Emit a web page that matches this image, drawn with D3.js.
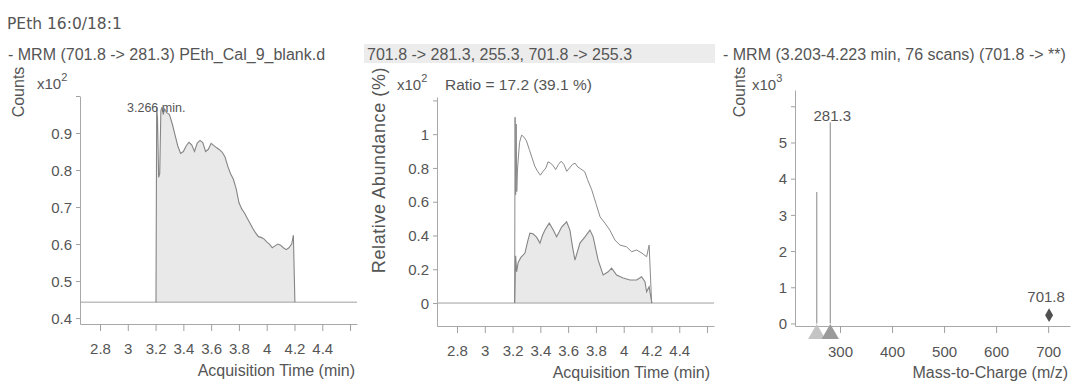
<!DOCTYPE html>
<html><head><meta charset="utf-8">
<script src="https://cdn.jsdelivr.net/npm/d3@7"></script>
<style>
body{margin:0;background:#fff}
svg text{font-family:'Liberation Sans',Arial,sans-serif;fill:#555}
</style>
</head><body>
<svg id="c" width="1073" height="381"></svg>
<script>
// ---- Panel 1: EIC 701.8 -> 281.3 (counts x10^2)
const eicTime = [3.203,3.208,3.214,3.222,3.230,3.238,3.246,3.255,3.266,3.28,3.30,3.32,3.34,3.36,3.38,3.40,3.42,3.44,3.46,3.48,3.50,3.52,3.54,3.56,3.58,3.60,3.62,3.64,3.66,3.68,3.70,3.72,3.74,3.76,3.78,3.80,3.82,3.84,3.86,3.88,3.90,3.92,3.94,3.96,3.98,4.00,4.02,4.04,4.06,4.08,4.10,4.12,4.14,4.16,4.18,4.192,4.203];
const eicCounts = [0.443,0.97,0.94,0.78,0.79,0.96,0.97,0.95,0.965,0.955,0.95,0.925,0.895,0.865,0.845,0.85,0.865,0.875,0.868,0.85,0.873,0.88,0.874,0.85,0.856,0.872,0.866,0.86,0.855,0.848,0.835,0.81,0.79,0.775,0.75,0.712,0.695,0.684,0.67,0.656,0.642,0.63,0.62,0.618,0.614,0.606,0.60,0.59,0.595,0.60,0.597,0.59,0.585,0.59,0.60,0.624,0.443];
const eicBaseline = 0.443;
const eicYTicks = [0.4,0.5,0.6,0.7,0.8,0.9,1.0];
const eicYLabels = ["0.4","0.5","0.6","0.7","0.8","0.9",""];
const timeTicks = [2.8,3.0,3.2,3.4,3.6,3.8,4.0,4.2,4.4,4.6];
const timeLabels = ["2.8","3","3.2","3.4","3.6","3.8","4","4.2","4.4",""];

// ---- Panel 2: qualifier overlay (relative abundance x10^2)
const upTime = [3.215,3.218,3.222,3.226,3.230,3.236,3.250,3.265,3.28,3.30,3.32,3.34,3.36,3.38,3.40,3.42,3.44,3.455,3.47,3.49,3.51,3.53,3.55,3.57,3.59,3.61,3.63,3.65,3.67,3.69,3.72,3.74,3.77,3.80,3.83,3.865,3.90,3.937,3.973,4.02,4.057,4.093,4.13,4.165,4.183,4.201];
const upValue = [0,1.10,0.64,1.06,0.66,0.80,0.95,0.994,0.985,0.96,0.91,0.86,0.81,0.78,0.757,0.78,0.80,0.836,0.83,0.816,0.79,0.82,0.84,0.82,0.78,0.80,0.82,0.828,0.805,0.795,0.777,0.73,0.67,0.59,0.51,0.473,0.432,0.373,0.343,0.333,0.304,0.314,0.296,0.274,0.343,0];
const loTime = [3.215,3.222,3.229,3.24,3.26,3.289,3.31,3.325,3.347,3.373,3.397,3.415,3.433,3.464,3.493,3.517,3.535,3.553,3.589,3.613,3.63,3.649,3.685,3.72,3.757,3.78,3.816,3.852,3.888,3.913,3.949,3.996,4.045,4.093,4.129,4.153,4.165,4.183,4.195,4.203];
const loValue = [0,0.28,0.185,0.24,0.27,0.296,0.37,0.414,0.41,0.39,0.355,0.40,0.432,0.473,0.432,0.392,0.42,0.45,0.481,0.432,0.34,0.254,0.355,0.39,0.432,0.392,0.254,0.166,0.185,0.207,0.166,0.148,0.136,0.136,0.156,0.126,0.067,0.096,0.037,0];
const relYTicks = [0,0.2,0.4,0.6,0.8,1.0,1.2];
const relYLabels = ["0","0.2","0.4","0.6","0.8","1",""];

// ---- Panel 3: product ion spectrum (counts x10^3)
const specMz = [255.3, 281.3];
const specIntensity = [3.63, 5.56];
const specMarkerColor = ["#c4c4c4", "#9a9a9a"];
const precursorMz = [701.8];
const precursorIntensity = [0.23];
const mzTicks = [300,400,500,600,700];
const mzLabels = ["300","400","500","600","700"];
const cntYTicks = [0,1,2,3,4,5,6];
const cntYLabels = ["0","1","2","3","4","5",""];

const svg = d3.select("#c");
svg.append("rect").attr("width",1073).attr("height",381).attr("fill","#fff");

function styleAxis(g){
  g.select(".domain").attr("stroke","#a8a8a8");
  g.selectAll(".tick line").attr("stroke","#a0a0a0");
  g.selectAll(".tick text").style("font-size","15px").attr("fill","#5a5a5a");
}
function drawAxes(x, y, xt, xl, yt, yl, xPad){
  const ax = d3.axisBottom(x).tickValues(xt).tickFormat((d,i)=>xl[i]).tickSize(7).tickSizeOuter(0).tickPadding(xPad);
  const ay = d3.axisLeft(y).tickValues(yt).tickFormat((d,i)=>yl[i]).tickSize(4).tickSizeOuter(0).tickPadding(4);
  const gx = svg.append("g").attr("transform",`translate(0,${y.range()[0]})`).call(ax);
  const gy = svg.append("g").attr("transform",`translate(${x.range()[0]},0)`).call(ay);
  styleAxis(gx); styleAxis(gy);
  gy.selectAll(".tick text").attr("dy","0.35em");
}
function txt(x,y,s,opt={}){
  const t = svg.append("text").attr("x",x).attr("y",y).text(s)
    .style("font-size",(opt.size||15)+"px").attr("fill",opt.fill||"#5a5a5a")
    .attr("text-anchor",opt.anchor||"start").attr("dominant-baseline","central");
  if(opt.family) t.style("font-family",opt.family);
  if(opt.spacing) t.style("letter-spacing",opt.spacing+"px");
  if(opt.rotate) t.attr("transform",`rotate(-90,${x},${y})`);
  return t;
}
function sup(x,y,base,exp){
  const t = svg.append("text").attr("x",x).attr("y",y).attr("dominant-baseline","central").style("font-size","15px").attr("fill","#5a5a5a");
  t.append("tspan").text(base);
  t.append("tspan").text(exp).attr("dy",-6).style("font-size","11px");
}

// Title
txt(7,24,"PEth 16:0/18:1",{size:15.5,fill:"#3c3c3c",family:"'DejaVu Sans',sans-serif"});

// ===== Panel 1 =====
const x1 = d3.scaleLinear().domain([2.656,4.65]).range([80,357]);
const y1 = d3.scaleLinear().domain([0.384,1.0]).range([324,96]);
const eic = eicTime.map((t,i)=>[t,eicCounts[i]]);
svg.append("path").datum(eic)
  .attr("d",d3.area().x(d=>x1(d[0])).y0(y1(eicBaseline)).y1(d=>y1(d[1])))
  .attr("fill","#e9e9e9");
svg.append("line").attr("x1",x1.range()[0]).attr("x2",x1.range()[1])
  .attr("y1",y1(eicBaseline)).attr("y2",y1(eicBaseline)).attr("stroke","#a0a0a0");
svg.append("path").datum(eic)
  .attr("d",d3.line().x(d=>x1(d[0])).y(d=>y1(d[1])))
  .attr("fill","none").attr("stroke","#858585").attr("stroke-width",1.1);
drawAxes(x1,y1,timeTicks,timeLabels,eicYTicks,eicYLabels,12);
txt(8,54,"- MRM (701.8 -> 281.3) PEth_Cal_9_blank.d",{size:16});
txt(18,92,"Counts",{size:16,anchor:"middle",rotate:true});
sup(37,83,"x10","2");
txt(127,108,"3.266 min.",{size:12.5});
txt(355,370,"Acquisition Time (min)",{size:16,anchor:"end"});

// ===== Panel 2 =====
const x2 = d3.scaleLinear().domain([2.656,4.65]).range([437,714]);
const y2 = d3.scaleLinear().domain([-0.136,1.22]).range([326,97]);
svg.append("rect").attr("x",364).attr("y",44).attr("width",351).attr("height",19).attr("fill","#ececec");
const lo = loTime.map((t,i)=>[t,loValue[i]]);
const up = upTime.map((t,i)=>[t,upValue[i]]);
svg.append("path").datum(lo)
  .attr("d",d3.area().x(d=>x2(d[0])).y0(y2(0)).y1(d=>y2(d[1])))
  .attr("fill","#e9e9e9");
svg.append("line").attr("x1",x2.range()[0]).attr("x2",x2.range()[1])
  .attr("y1",y2(0)).attr("y2",y2(0)).attr("stroke","#a0a0a0");
svg.append("path").datum(up)
  .attr("d",d3.line().x(d=>x2(d[0])).y(d=>y2(d[1])))
  .attr("fill","none").attr("stroke","#8a8a8a").attr("stroke-width",1);
svg.append("path").datum(lo)
  .attr("d",d3.line().x(d=>x2(d[0])).y(d=>y2(d[1])))
  .attr("fill","none").attr("stroke","#858585").attr("stroke-width",1.1);
drawAxes(x2,y2,timeTicks,timeLabels,relYTicks,relYLabels,12);
txt(367,54,"701.8 -> 281.3, 255.3, 701.8 -> 255.3",{size:16});
txt(379,170,"Relative Abundance (%)",{size:18,anchor:"middle",rotate:true,spacing:0.6});
sup(397,84,"x10","2");
txt(445,84,"Ratio = 17.2 (39.1 %)",{size:15.5});
txt(710,372,"Acquisition Time (min)",{size:16,anchor:"end"});

// ===== Panel 3 =====
const x3 = d3.scaleLinear().domain([213.5,742]).range([795,1070]);
const y3 = d3.scaleLinear().domain([-0.07,6.45]).range([326,90]);
drawAxes(x3,y3,mzTicks,mzLabels,cntYTicks,cntYLabels,13);
specMz.forEach((m,i)=>{
  svg.append("line").attr("x1",x3(m)).attr("x2",x3(m)).attr("y1",y3(0)).attr("y2",y3(specIntensity[i]))
    .attr("stroke","#9a9a9a").attr("stroke-width",1.2);
});
const tri = d3.symbol().type(d3.symbolTriangle).size(130);
specMz.forEach((m,i)=>{
  svg.append("path").attr("d",tri()).attr("transform",`translate(${x3(m)},${y3.range()[0]+8})`)
    .attr("fill",specMarkerColor[i]);
});
const dia = d3.symbol().type(d3.symbolDiamond).size(55);
precursorMz.forEach((m,i)=>{
  svg.append("path").attr("d",dia()).attr("transform",`translate(${x3(m)},${y3(precursorIntensity[i])})`)
    .attr("fill","#505050");
  txt(x3(m)-3,y3(precursorIntensity[i])-19,String(m),{size:15,anchor:"middle"});
});
txt(x3(specMz[1])+2,y3(specIntensity[1])-7,String(specMz[1]),{size:15,anchor:"middle"});
txt(723,54,"- MRM (3.203-4.223 min, 76 scans) (701.8 -> **)",{size:16});
txt(739,92,"Counts",{size:16,anchor:"middle",rotate:true});
sup(752,84,"x10","3");
txt(1068,372,"Mass-to-Charge (m/z)",{size:16,anchor:"end"});
</script>
</body></html>
